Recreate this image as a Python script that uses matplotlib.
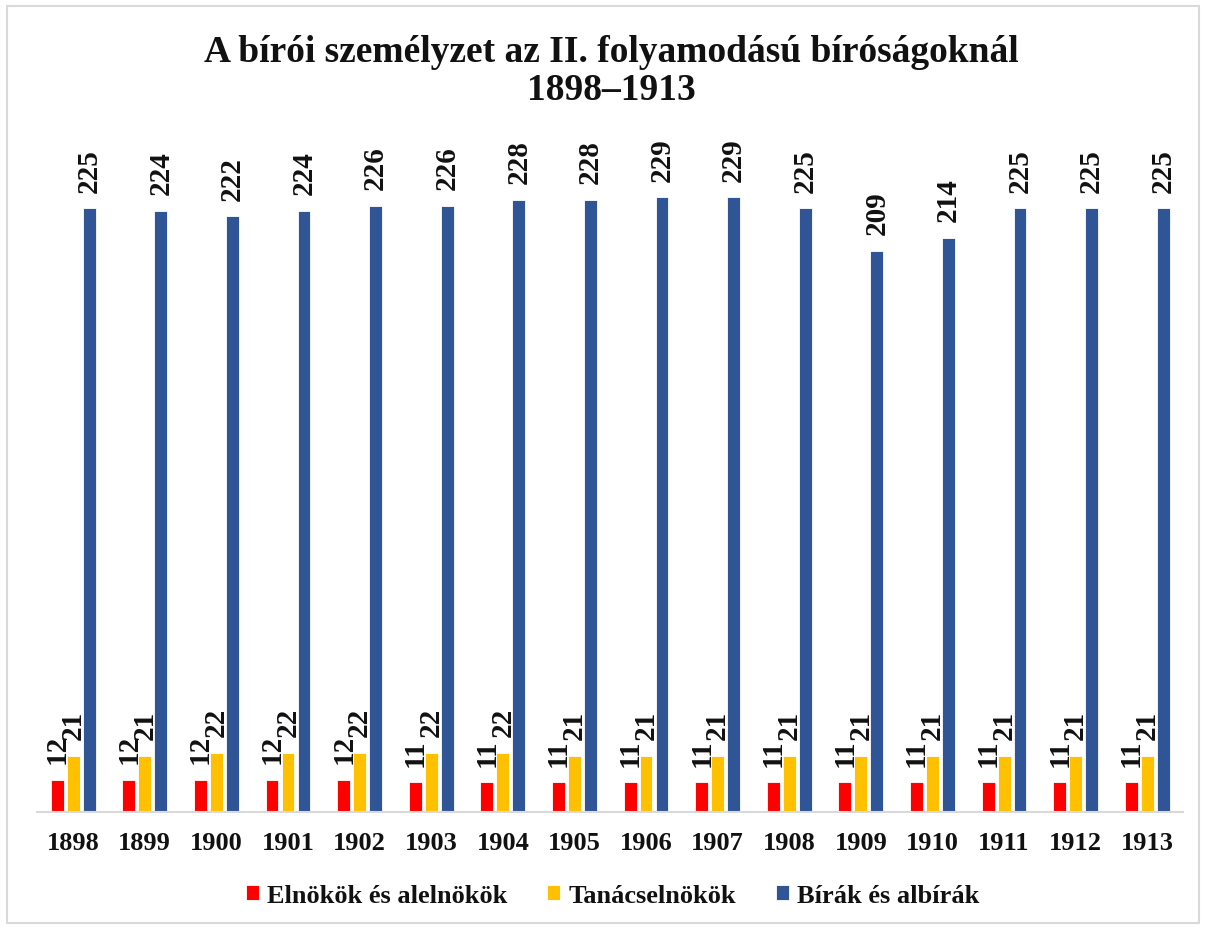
import numpy as np
import matplotlib.pyplot as plt
from matplotlib.patches import Rectangle

years = [str(y) for y in range(1898, 1914)]
elnokok = [12, 12, 12, 12, 12, 11, 11, 11, 11, 11, 11, 11, 11, 11, 11, 11]
tanacselnokok = [21, 21, 22, 22, 22, 22, 22, 21, 21, 21, 21, 21, 21, 21, 21, 21]
birak = [225, 224, 222, 224, 226, 226, 228, 228, 229, 229, 225, 209, 214, 225, 225, 225]

series = [
    ("Elnökök és alelnökök", elnokok, "#FF0000"),
    ("Tanácselnökök", tanacselnokok, "#FFC000"),
    ("Bírák és albírák", birak, "#2F5597"),
]

plt.rcParams['font.family'] = ['Liberation Serif', 'DejaVu Serif']
plt.rcParams['font.weight'] = 'bold'

fig = plt.figure(figsize=(12.06, 9.29), dpi=100)
ax = fig.add_axes([0.031, 0.125, 0.95, 0.722])

x = np.arange(len(years))
width = 0.18
offsets = [-0.223, 0, 0.223]

for (name, vals, color), off in zip(series, offsets):
    bars = ax.bar(x + off, vals, width, color=color, label=name,
                  edgecolor='white', linewidth=0.6)
    for b, v in zip(bars, vals):
        ax.annotate(str(v), (b.get_x() + b.get_width() / 2, b.get_height()),
                    xytext=(0, 12), textcoords='offset points',
                    rotation=90, ha='center', va='bottom',
                    fontsize=21, fontweight='bold', color='#111111')

ax.set_xlim(-0.5, len(years) - 0.5)
ax.set_ylim(0, 250)
ax.set_yticks([])
ax.set_xticks(x)
ax.set_xticklabels(years, fontsize=19, fontweight='bold', color='#111111')
ax.tick_params(axis='x', length=0, pad=14)
for s in ['top', 'right', 'left']:
    ax.spines[s].set_visible(False)
ax.spines['bottom'].set_color('#D9D9D9')
ax.spines['bottom'].set_linewidth(1.5)

fig.text(0.507, 0.923, "A bírói személyzet az II. folyamodású bíróságoknál\n1898–1913",
         ha='center', va='center', fontsize=27, fontweight='bold',
         color='#111111', linespacing=1.12)

leg = fig.legend(loc='center', bbox_to_anchor=(0.508, 0.035), ncol=3, frameon=False,
                 fontsize=19, handlelength=0.5, handleheight=0.5,
                 handletextpad=0.3, columnspacing=1.5)
for t in leg.get_texts():
    t.set_color('#111111')

fig.patches.append(Rectangle((0.006, 0.005), 0.988, 0.987, transform=fig.transFigure,
                             fill=False, edgecolor='#D9D9D9', linewidth=1.5))

fig.savefig("out.png", dpi=100)
